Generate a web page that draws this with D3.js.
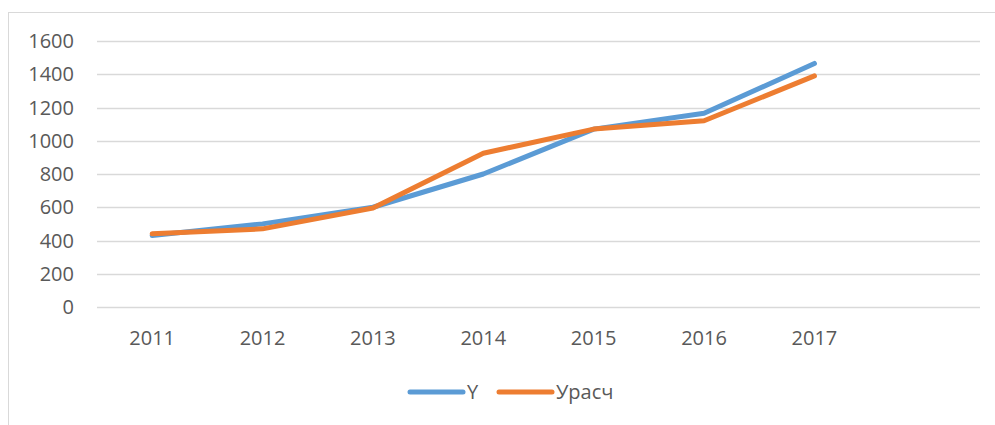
<!DOCTYPE html>
<html>
<head>
<meta charset="utf-8">
<script src="https://cdn.jsdelivr.net/npm/d3@7"></script>
<style>
  body { margin: 0; background: #fff; }
  text { font-family: "Open Sans", sans-serif; fill: #595959; }
</style>
</head>
<body>
<svg width="995" height="425"></svg>
<script>
// data
var years = ["2011", "2012", "2013", "2014", "2015", "2016", "2017", ""];
var seriesY = [430, 500, 600, 800, 1070, 1165, 1465];
var seriesYcalc = [440, 470, 595, 925, 1070, 1120, 1390];
var yTicks = [0, 200, 400, 600, 800, 1000, 1200, 1400, 1600];
var seriesNames = ["Y", "Урасч"];
var colors = ["#5B9BD5", "#ED7D31"];

var svg = d3.select("svg"),
    margin = {top: 41, left: 97, right: 15},
    width = 980 - margin.left,
    height = 307 - margin.top;

// chart frame (top and left edges visible)
svg.append("rect")
   .attr("x", 8.5).attr("y", 12.5)
   .attr("width", 1000).attr("height", 500)
   .attr("fill", "none")
   .attr("stroke", "#d9d9d9");

var x = d3.scaleBand().domain(years).range([0, width]);
var y = d3.scaleLinear().domain([0, 1600]).range([height, 0]);

var g = svg.append("g")
   .attr("transform", "translate(" + margin.left + "," + margin.top + ")");

// gridlines
g.selectAll(".grid")
   .data(yTicks)
   .enter().append("line")
   .attr("x1", 0).attr("x2", width)
   .attr("y1", function(d) { return Math.round(y(d)) + 0.5; })
   .attr("y2", function(d) { return Math.round(y(d)) + 0.5; })
   .attr("stroke", "#d9d9d9")
   .attr("stroke-width", 1.5);

// y tick labels
g.selectAll(".ylab")
   .data(yTicks)
   .enter().append("text")
   .attr("x", -23)
   .attr("y", function(d) { return y(d); })
   .attr("dy", "0.36em")
   .attr("text-anchor", "end")
   .style("font-size", "20px")
   .text(function(d) { return d; });

// x tick labels
g.selectAll(".xlab")
   .data(years)
   .enter().append("text")
   .attr("x", function(d) { return x(d) + x.bandwidth() / 2; })
   .attr("y", height + 38)
   .attr("text-anchor", "middle")
   .style("font-size", "20px")
   .text(function(d) { return d; });

var line = d3.line()
   .x(function(d, i) { return x(years[i]) + x.bandwidth() / 2; })
   .y(function(d) { return y(d); });

[seriesY, seriesYcalc].forEach(function(s, i) {
  g.append("path")
     .datum(s)
     .attr("fill", "none")
     .attr("stroke", colors[i])
     .attr("stroke-width", 5)
     .attr("stroke-linecap", "round")
     .attr("stroke-linejoin", "round")
     .attr("d", line);
});

// legend
var legendX = [410, 499];
var legend = svg.append("g").selectAll("g")
   .data(seriesNames)
   .enter().append("g")
   .attr("transform", function(d, i) { return "translate(" + legendX[i] + ",392)"; });

legend.append("line")
   .attr("x1", 0).attr("x2", 53)
   .attr("stroke", function(d, i) { return colors[i]; })
   .attr("stroke-width", 5)
   .attr("stroke-linecap", "round");

legend.append("text")
   .attr("x", 57)
   .attr("dy", "0.36em")
   .style("font-size", "20px")
   .text(function(d) { return d; });
</script>
</body>
</html>
